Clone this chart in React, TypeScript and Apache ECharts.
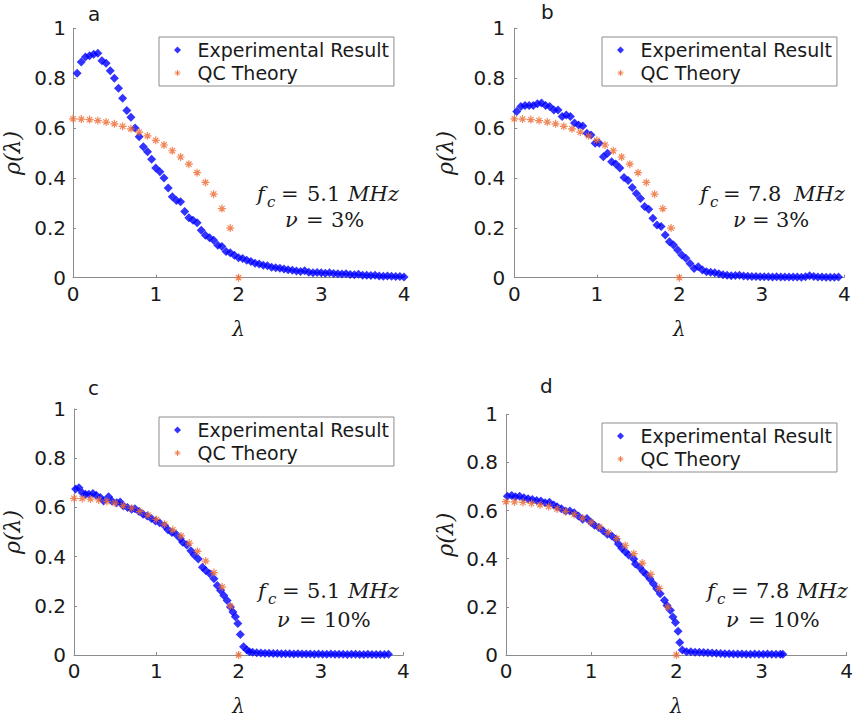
import React, { useEffect, useRef } from 'react';
import * as echarts from 'echarts';

// ---------- data ----------
const PANEL_LETTERS = ['a', 'b', 'c', 'd'];
const FC_VALUES = ['5.1', '7.8', '5.1', '7.8'];
const NU_VALUES = ['3%', '3%', '10%', '10%'];
const LEGEND_NAMES = ['Experimental Result', 'QC Theory'];
const X_TICKS = [0, 1, 2, 3, 4];
const Y_TICKS = [0, 0.2, 0.4, 0.6, 0.8, 1];

const QC_LAMBDA = [0, 0.1, 0.2, 0.3, 0.4, 0.5, 0.6, 0.7, 0.8, 0.9, 1, 1.1, 1.2, 1.3, 1.4, 1.5, 1.6, 1.7, 1.8, 1.9, 2];
const QC_RHO = [0.637, 0.636, 0.634, 0.63, 0.624, 0.617, 0.607, 0.597, 0.584, 0.569, 0.551, 0.532, 0.509, 0.484, 0.455, 0.421, 0.382, 0.335, 0.277, 0.199, 0];

const LAMBDA_A = [0.05, 0.1, 0.15, 0.2, 0.25, 0.3, 0.35, 0.4, 0.45, 0.5, 0.55, 0.6, 0.65, 0.7, 0.75, 0.8, 0.85, 0.9, 0.95, 1, 1.05, 1.1, 1.15, 1.2, 1.25, 1.3, 1.35, 1.4, 1.45, 1.5, 1.55, 1.6, 1.65, 1.7, 1.75, 1.8, 1.85, 1.9, 1.95, 2, 2.05, 2.1, 2.15, 2.2, 2.25, 2.3, 2.35, 2.4, 2.45, 2.5, 2.55, 2.6, 2.65, 2.7, 2.75, 2.8, 2.85, 2.9, 2.95, 3, 3.05, 3.1, 3.15, 3.2, 3.25, 3.3, 3.35, 3.4, 3.45, 3.5, 3.55, 3.6, 3.65, 3.7, 3.75, 3.8, 3.85, 3.9, 3.95, 4];
const RHO_A = [0.82, 0.865, 0.885, 0.89, 0.896, 0.9, 0.87, 0.86, 0.83, 0.8, 0.76, 0.72, 0.67, 0.643, 0.6, 0.565, 0.525, 0.505, 0.475, 0.44, 0.425, 0.4, 0.36, 0.325, 0.31, 0.305, 0.265, 0.24, 0.23, 0.22, 0.19, 0.17, 0.16, 0.15, 0.13, 0.125, 0.105, 0.1, 0.09, 0.08, 0.077, 0.07, 0.065, 0.058, 0.055, 0.05, 0.048, 0.042, 0.04, 0.038, 0.035, 0.032, 0.03, 0.027, 0.025, 0.028, 0.022, 0.02, 0.021, 0.02, 0.018, 0.02, 0.017, 0.016, 0.015, 0.016, 0.013, 0.012, 0.014, 0.01, 0.01, 0.009, 0.01, 0.007, 0.006, 0.007, 0.006, 0.005, 0.005, 0.003];

const LAMBDA_B = [0.03, 0.08, 0.13, 0.18, 0.23, 0.28, 0.33, 0.38, 0.43, 0.48, 0.53, 0.58, 0.63, 0.68, 0.73, 0.78, 0.83, 0.88, 0.93, 0.98, 1.03, 1.08, 1.13, 1.18, 1.23, 1.28, 1.33, 1.38, 1.43, 1.48, 1.53, 1.58, 1.63, 1.68, 1.73, 1.78, 1.83, 1.88, 1.93, 1.98, 2.03, 2.08, 2.13, 2.18, 2.23, 2.28, 2.33, 2.38, 2.43, 2.48, 2.53, 2.58, 2.63, 2.68, 2.73, 2.78, 2.83, 2.88, 2.93, 2.98, 3.03, 3.08, 3.13, 3.18, 3.23, 3.28, 3.33, 3.38, 3.43, 3.48, 3.53, 3.58, 3.63, 3.68, 3.73, 3.78, 3.83, 3.88, 3.93];
const RHO_B = [0.666, 0.686, 0.69, 0.69, 0.69, 0.697, 0.7, 0.69, 0.686, 0.672, 0.672, 0.646, 0.652, 0.646, 0.62, 0.612, 0.608, 0.579, 0.572, 0.539, 0.539, 0.485, 0.499, 0.465, 0.456, 0.44, 0.402, 0.39, 0.362, 0.338, 0.318, 0.285, 0.274, 0.238, 0.211, 0.205, 0.171, 0.144, 0.131, 0.111, 0.091, 0.078, 0.057, 0.037, 0.044, 0.031, 0.024, 0.022, 0.02, 0.016, 0.012, 0.01, 0.008, 0.009, 0.01, 0.007, 0.006, 0.005, 0.005, 0.004, 0.004, 0.004, 0.003, 0.004, 0.003, 0.003, 0.003, 0.003, 0.003, 0.002, 0.004, 0.008, 0.005, 0.003, 0.003, 0.002, 0.002, 0.002, 0.003];

const LAMBDA_C = [0.02, 0.06, 0.1, 0.14, 0.18, 0.23, 0.27, 0.32, 0.36, 0.42, 0.46, 0.52, 0.56, 0.6, 0.65, 0.7, 0.74, 0.79, 0.84, 0.89, 0.94, 0.99, 1.04, 1.1, 1.14, 1.19, 1.24, 1.29, 1.32, 1.37, 1.42, 1.46, 1.51, 1.56, 1.6, 1.65, 1.7, 1.74, 1.78, 1.82, 1.86, 1.9, 1.93, 1.96, 1.99, 2.02, 2.06, 2.1, 2.13, 2.17, 2.22, 2.27, 2.32, 2.37, 2.42, 2.47, 2.52, 2.57, 2.62, 2.67, 2.72, 2.77, 2.82, 2.87, 2.92, 2.97, 3.02, 3.07, 3.12, 3.17, 3.22, 3.27, 3.32, 3.37, 3.42, 3.47, 3.52, 3.57, 3.62, 3.67, 3.72, 3.77, 3.82];
const RHO_C = [0.675, 0.68, 0.66, 0.653, 0.653, 0.657, 0.649, 0.64, 0.626, 0.643, 0.626, 0.619, 0.622, 0.606, 0.6, 0.592, 0.595, 0.583, 0.572, 0.565, 0.555, 0.545, 0.538, 0.525, 0.509, 0.498, 0.491, 0.474, 0.458, 0.447, 0.424, 0.406, 0.39, 0.357, 0.343, 0.33, 0.31, 0.283, 0.262, 0.242, 0.222, 0.195, 0.175, 0.155, 0.128, 0.083, 0.034, 0.02, 0.013, 0.011, 0.009, 0.008, 0.007, 0.007, 0.006, 0.006, 0.005, 0.005, 0.005, 0.004, 0.005, 0.004, 0.004, 0.004, 0.003, 0.004, 0.003, 0.003, 0.004, 0.003, 0.003, 0.003, 0.002, 0.003, 0.003, 0.002, 0.002, 0.003, 0.002, 0.002, 0.002, 0.002, 0.003];

const LAMBDA_D = [0.016, 0.067, 0.11, 0.16, 0.21, 0.26, 0.31, 0.36, 0.41, 0.46, 0.51, 0.56, 0.6, 0.65, 0.7, 0.75, 0.8, 0.85, 0.9, 0.95, 1, 1.04, 1.09, 1.14, 1.19, 1.24, 1.29, 1.32, 1.36, 1.4, 1.44, 1.5, 1.52, 1.57, 1.61, 1.65, 1.69, 1.73, 1.77, 1.81, 1.86, 1.89, 1.93, 1.96, 1.99, 2.02, 2.04, 2.07, 2.12, 2.17, 2.22, 2.27, 2.32, 2.37, 2.42, 2.47, 2.52, 2.57, 2.62, 2.67, 2.72, 2.77, 2.82, 2.87, 2.92, 2.97, 3.02, 3.07, 3.12, 3.17, 3.22, 3.25];
const RHO_D = [0.66, 0.663, 0.657, 0.66, 0.653, 0.649, 0.646, 0.642, 0.64, 0.633, 0.635, 0.623, 0.616, 0.608, 0.598, 0.598, 0.591, 0.578, 0.564, 0.567, 0.55, 0.539, 0.53, 0.516, 0.502, 0.495, 0.481, 0.461, 0.443, 0.429, 0.415, 0.399, 0.378, 0.365, 0.347, 0.333, 0.316, 0.296, 0.275, 0.254, 0.227, 0.206, 0.186, 0.158, 0.135, 0.099, 0.052, 0.021, 0.014, 0.014, 0.011, 0.011, 0.01, 0.009, 0.008, 0.007, 0.006, 0.005, 0.005, 0.004, 0.004, 0.004, 0.003, 0.003, 0.004, 0.003, 0.003, 0.004, 0.003, 0.003, 0.003, 0.003];

const EXP_LAMBDA = [LAMBDA_A, LAMBDA_B, LAMBDA_C, LAMBDA_D];
const EXP_RHO = [RHO_A, RHO_B, RHO_C, RHO_D];

// ---------- styles / layout ----------
const BLUE = '#0000ff';
const ORANGE = '#ec6a33';
const AXIS_GRAY = '#8c8c8c';
const TEXT = '#1a1a1a';
const SANS = 'DejaVu Sans';
const SERIF = 'DejaVu Serif';
const ASTERISK = 'path://M5 0L5 10M0 5L10 5M1.6 1.6L8.4 8.4M1.6 8.4L8.4 1.6';
// legend icons: the leading moves widen the bounding box so the mark sits centred in a 30x8 slot
const LEGEND_DIAMOND = 'path://M0 0M30 8M15 0.5L18.5 4L15 7.5L11.5 4Z';
const LEGEND_ASTERISK = 'path://M0 0M30 8M15 1L15 7M12 4L18 4M12.9 1.9L17.1 6.1M12.9 6.1L17.1 1.9';

const LAYOUT = [
  { left: 69, top: 28.3, width: 335, height: 249.4, yMargin: 7, yGap: 50, lg: [159, 37], letter: [88, 14],
    ann: { f: 257, eq: 281, num: 307, unit: 348, nu: 285, eq2: 306, pct: 331, base1: 201, base2: 227 } },
  { left: 514.3, top: 28.3, width: 330, height: 249.4, yMargin: 9, yGap: 58, lg: [602, 37], letter: [541, 12],
    ann: { f: 700, eq: 723, num: 748, unit: 794, nu: 733, eq2: 752, pct: 776, base1: 201, base2: 227 } },
  { left: 70, top: 409, width: 333.3, height: 247.7, yMargin: 8, yGap: 51, lg: [159, 417], letter: [88, 388],
    ann: { f: 258, eq: 282, num: 307, unit: 348, nu: 277, eq2: 299, pct: 324, base1: 598, base2: 627 } },
  { left: 506, top: 414.3, width: 340.7, height: 242.4, yMargin: 8, yGap: 50, lg: [602, 423], letter: [540, 386],
    ann: { f: 707, eq: 731, num: 756, unit: 797, nu: 726, eq2: 748, pct: 773, base1: 598, base2: 627 } },
];

function txt(x: number, y: number, text: string, size: number, family: string, italic = false, align = 'left') {
  return {
    type: 'text',
    x, y,
    silent: true,
    style: {
      text,
      fill: TEXT,
      fontSize: size,
      fontFamily: family,
      fontStyle: italic ? 'italic' : 'normal',
      textAlign: align, align,
      textVerticalAlign: 'middle', verticalAlign: 'middle',
    },
  };
}

function buildOption() {
  const grid: any[] = [];
  const xAxis: any[] = [];
  const yAxis: any[] = [];
  const series: any[] = [];
  const legend: any[] = [];
  const graphics: any[] = [];

  LAYOUT.forEach((L, i) => {
    grid.push({ left: L.left, top: L.top, width: L.width, height: L.height, containLabel: false });
    xAxis.push({
      gridIndex: i, type: 'value', min: X_TICKS[0], max: X_TICKS[X_TICKS.length - 1], interval: 1,
      axisLine: { show: true, lineStyle: { color: AXIS_GRAY, width: 1 } },
      axisTick: { show: true, inside: true, length: 3, lineStyle: { color: AXIS_GRAY } },
      axisLabel: { color: TEXT, fontSize: 20, fontFamily: SANS, margin: 6 },
      splitLine: { show: false },
      name: 'λ', nameLocation: 'middle', nameGap: 41,
      nameTextStyle: { color: TEXT, fontSize: 20, fontFamily: SERIF, fontStyle: 'italic' },
    });
    yAxis.push({
      gridIndex: i, type: 'value', min: Y_TICKS[0], max: Y_TICKS[Y_TICKS.length - 1], interval: 0.2,
      axisLine: { show: true, lineStyle: { color: AXIS_GRAY, width: 1 } },
      axisTick: { show: true, inside: true, length: 3, lineStyle: { color: AXIS_GRAY } },
      axisLabel: { color: TEXT, fontSize: 20, fontFamily: SANS, margin: L.yMargin },
      splitLine: { show: false },
      name: 'ρ(λ)', nameLocation: 'middle', nameGap: L.yGap,
      nameTextStyle: { color: TEXT, fontSize: 22, fontFamily: SERIF, fontStyle: 'italic' },
    });
    series.push({
      name: LEGEND_NAMES[0], type: 'scatter', xAxisIndex: i, yAxisIndex: i, clip: false,
      symbol: 'diamond', symbolSize: 9,
      itemStyle: { color: BLUE },
      data: EXP_LAMBDA[i].map((x, k) => [x, EXP_RHO[i][k]]),
    });
    series.push({
      name: LEGEND_NAMES[1], type: 'scatter', xAxisIndex: i, yAxisIndex: i, clip: false,
      symbol: ASTERISK, symbolSize: 8,
      itemStyle: { color: 'rgba(0,0,0,0)', borderColor: ORANGE, borderWidth: 1.2 },
      data: QC_LAMBDA.map((x, k) => [x, QC_RHO[k]]),
    });
    legend.push({
      orient: 'vertical', left: L.lg[0], top: L.lg[1],
      padding: [2, 5, 2, 3], itemGap: 1, itemWidth: 30, itemHeight: 8,
      borderColor: AXIS_GRAY, borderWidth: 1, backgroundColor: '#fff',
      selectedMode: false,
      textStyle: { color: TEXT, fontSize: 19, fontFamily: SANS, lineHeight: 22 },
      data: [
        { name: LEGEND_NAMES[0], icon: LEGEND_DIAMOND, itemStyle: { color: BLUE, borderWidth: 0 } },
        { name: LEGEND_NAMES[1], icon: LEGEND_ASTERISK, itemStyle: { color: 'rgba(0,0,0,0)', borderColor: ORANGE, borderWidth: 1 } },
      ],
    });

    graphics.push(txt(L.letter[0], L.letter[1], PANEL_LETTERS[i], 20, SANS));
    const A = L.ann;
    graphics.push(txt(A.f, A.base1 - 7, 'f', 21, SERIF, true));
    graphics.push(txt(A.f + 10, A.base1 + 1, 'c', 15, SERIF, true));
    graphics.push(txt(A.eq, A.base1 - 7, '=', 21, SERIF));
    graphics.push(txt(A.num, A.base1 - 7, FC_VALUES[i], 21, SERIF));
    graphics.push(txt(A.unit, A.base1 - 7, 'MHz', 21, SERIF, true));
    graphics.push(txt(A.nu, A.base2 - 7, 'ν', 21, SERIF, true));
    graphics.push(txt(A.eq2, A.base2 - 7, '=', 21, SERIF));
    graphics.push(txt(A.pct, A.base2 - 7, NU_VALUES[i], 21, SERIF));
  });

  return {
    animation: false,
    backgroundColor: '#ffffff',
    grid, xAxis, yAxis, series, legend,
    graphic: { elements: graphics },
  };
}

export default function App() {
  const ref = useRef<HTMLDivElement>(null);
  useEffect(() => {
    const chart = echarts.init(ref.current as HTMLDivElement, null, { renderer: 'svg' });
    chart.setOption(buildOption() as any);
    return () => chart.dispose();
  }, []);
  return (
    <div
      ref={ref}
      style={{ position: 'absolute', left: 0, top: 0, width: 858, height: 717, background: '#fff' }}
    />
  );
}
